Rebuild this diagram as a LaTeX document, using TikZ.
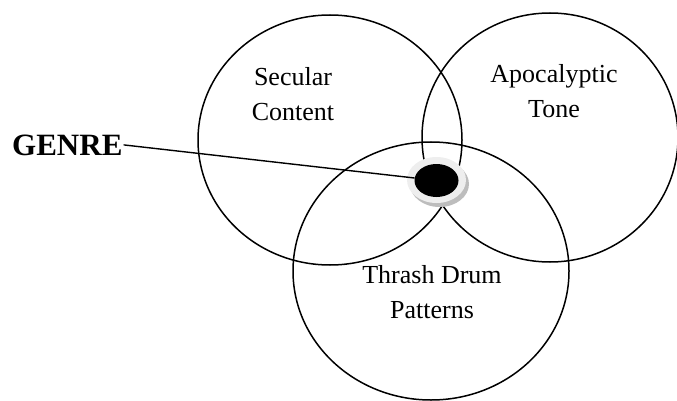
\documentclass[tikz,border=0pt]{standalone}
\usepackage{fontspec}
\setmainfont{Liberation Serif}
\usetikzlibrary{shapes.geometric}
\definecolor{ringgray}{HTML}{EEEEEE}
\definecolor{shadowgray}{HTML}{BDBDBD}
\begin{document}
\begin{tikzpicture}[x=1pt,y=-1pt,
  setcircle/.style={draw=black, line width=1.5pt, ellipse, inner sep=0pt, fill=none},
  setlabel/.style={inner sep=0pt, align=center, font=\fontsize{26}{34.5}\selectfont},
  ringshape/.style={ellipse, inner sep=0pt, draw=none},
  leader/.style={draw=black, line width=1.4pt}
]
\useasboundingbox (0,0) rectangle (677,401);
\clip (0,0) rectangle (677,401);
% three sets
\node[setcircle, minimum width=264pt, minimum height=250pt] (secular) at (330,140) {};
\node[setcircle, minimum width=256pt, minimum height=249pt] (apoc) at (550,137.5) {};
\node[setcircle, minimum width=276pt, minimum height=258pt] (thrash) at (431,271) {};
% labels
\node[setlabel] (seclab) at (293,94) {Secular\\Content};
\node[setlabel] (apoclab) at (554,91) {Apocalyptic\\Tone};
\node[setlabel] (thrlab) at (432,292) {Thrash Drum\\Patterns};
% centre dot
\node[ringshape, fill=shadowgray, minimum width=59pt, minimum height=46pt] (shadow) at (439.5,184) {};
\node[ringshape, fill=ringgray, minimum width=59pt, minimum height=46pt] (ring) at (436.5,180) {};
\node[ringshape, fill=black, minimum width=44pt, minimum height=33pt] (core) at (436.5,180.5) {};
% genre label
\node[anchor=base west, inner sep=1pt, font=\fontsize{31}{36}\selectfont\bfseries] (genre) at (11,155) {GENRE};
\draw[leader] (genre.east) -- (core);
\end{tikzpicture}
\end{document}
